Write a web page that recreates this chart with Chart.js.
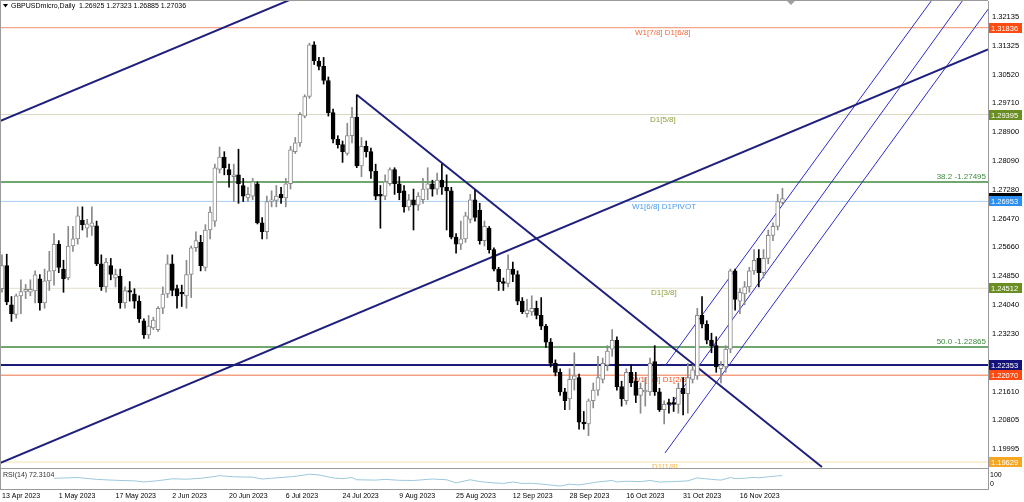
<!DOCTYPE html>
<html>
<head>
<meta charset="utf-8">
<script src="https://cdn.jsdelivr.net/npm/chart.js@4.4.1/dist/chart.umd.min.js"></script>
<style>
  html, body { margin: 0; padding: 0; background: #fff; overflow: hidden; }
  #c { display: block; }
</style>
</head>
<body>
<canvas id="c" width="1024" height="502"></canvas>
<script>
// daily GBPUSDmicro, 13 Apr 2023 .. 29 Nov 2023 (bar index 0..165)
const dateTickBars = [0, 12, 24, 36, 48, 60, 72, 84, 96, 108, 120, 132, 144, 156];
const dateLabels = ['13 Apr 2023', '1 May 2023', '17 May 2023', '2 Jun 2023', '20 Jun 2023', '6 Jul 2023',
  '24 Jul 2023', '9 Aug 2023', '25 Aug 2023', '12 Sep 2023', '28 Sep 2023', '16 Oct 2023', '31 Oct 2023', '16 Nov 2023'];

const open = [1.2450,1.2515,1.2405,1.2378,1.2430,1.2442,1.2440,1.2444,1.2478,1.2410,
  1.2472,1.2500,1.2575,1.2505,1.2480,1.2570,1.2590,1.2642,1.2620,1.2625,
  1.2627,1.2520,1.2455,1.2515,1.2480,1.2485,1.2410,1.2445,1.2435,1.2415,
  1.2360,1.2320,1.2340,1.2335,1.2395,1.2435,1.2520,1.2450,1.2440,1.2430,
  1.2490,1.2565,1.2580,1.2510,1.2615,1.2640,1.2785,1.2820,1.2785,1.2765,
  1.2770,1.2740,1.2705,1.2710,1.2745,1.2635,1.2610,1.2695,1.2698,1.2715,
  1.2705,1.2745,1.2835,1.2860,1.2935,1.2990,1.3135,1.3090,1.3075,1.3035,
  1.2945,1.2870,1.2855,1.2830,1.2880,1.2932,1.2795,1.2850,1.2835,1.2780,
  1.2715,1.2710,1.2745,1.2785,1.2745,1.2725,1.2680,1.2700,1.2685,1.2700,
  1.2730,1.2745,1.2730,1.2755,1.2735,1.2725,1.2595,1.2575,1.2590,1.2645,
  1.2700,1.2670,1.2585,1.2620,1.2560,1.2505,1.2470,1.2465,1.2505,1.2490,
  1.2415,1.2380,1.2385,1.2395,1.2375,1.2345,1.2300,1.2240,1.2215,1.2160,
  1.2140,1.2195,1.2200,1.2075,1.2070,1.2135,1.2165,1.2195,1.2235,1.2280,
  1.2305,1.2175,1.2135,1.2215,1.2190,1.2150,1.2160,1.2160,1.2245,1.2160,
  1.2110,1.2130,1.2130,1.2125,1.2170,1.2155,1.2195,1.2205,1.2375,1.2350,
  1.2305,1.2290,1.2225,1.2230,1.2280,1.2500,1.2415,1.2435,1.2455,1.2500,
  1.2535,1.2495,1.2535,1.2600,1.2625,1.26925];
const high = [1.2545,1.2547,1.2428,1.2435,1.2475,1.2462,1.2475,1.2500,1.2490,1.2505,
  1.2555,1.2605,1.2585,1.2530,1.2625,1.2625,1.2680,1.2680,1.2645,1.2680,
  1.2640,1.2545,1.2535,1.2535,1.2505,1.2505,1.2455,1.2470,1.2450,1.2430,
  1.2365,1.2375,1.2370,1.2400,1.2455,1.2545,1.2545,1.2460,1.2460,1.2530,
  1.2570,1.2610,1.2600,1.2630,1.2680,1.2800,1.2848,1.2835,1.2800,1.2800,
  1.2842,1.2760,1.2735,1.2760,1.2750,1.2650,1.2710,1.2725,1.2740,1.2735,
  1.2760,1.2850,1.2875,1.2945,1.2995,1.3140,1.3144,1.3100,1.3100,1.3045,
  1.2955,1.2880,1.2865,1.2915,1.2960,1.2995,1.2875,1.2865,1.2845,1.2800,
  1.2740,1.2770,1.2790,1.2790,1.2765,1.2740,1.2715,1.2730,1.2720,1.2760,
  1.2790,1.2755,1.2775,1.2800,1.2770,1.2735,1.2605,1.2640,1.2665,1.2715,
  1.2727,1.2690,1.2640,1.2625,1.2565,1.2510,1.2480,1.2545,1.2525,1.2500,
  1.2425,1.2420,1.2430,1.2415,1.2425,1.2350,1.2310,1.2250,1.2225,1.2170,
  1.2225,1.2270,1.2210,1.2105,1.2140,1.2185,1.2260,1.2255,1.2290,1.2335,
  1.2315,1.2190,1.2225,1.2235,1.2215,1.2185,1.2200,1.2255,1.2290,1.2170,
  1.2135,1.2140,1.2145,1.2185,1.2200,1.2240,1.2235,1.2395,1.2428,1.2360,
  1.2325,1.2315,1.2245,1.2290,1.2505,1.2505,1.2450,1.2470,1.2510,1.2560,
  1.2560,1.2560,1.2615,1.2635,1.2715,1.27323];
const low = [1.2440,1.2405,1.2358,1.2367,1.2380,1.2422,1.2430,1.2410,1.2390,1.2395,
  1.2445,1.2460,1.2495,1.2440,1.2475,1.2555,1.2575,1.2615,1.2595,1.2600,
  1.2515,1.2445,1.2440,1.2475,1.2455,1.2395,1.2395,1.2415,1.2395,1.2355,
  1.2310,1.2310,1.2335,1.2330,1.2380,1.2425,1.2430,1.2395,1.2400,1.2395,
  1.2425,1.2555,1.2500,1.2500,1.2590,1.2625,1.2775,1.2770,1.2735,1.2695,
  1.2690,1.2695,1.2695,1.2700,1.2632,1.2590,1.2590,1.2680,1.2680,1.2690,
  1.2680,1.2730,1.2830,1.2850,1.2930,1.2985,1.3080,1.3065,1.3025,1.2935,
  1.2860,1.2845,1.2805,1.2825,1.2860,1.2790,1.2765,1.2820,1.2760,1.2700,
  1.2620,1.2700,1.2740,1.2715,1.2700,1.2665,1.2670,1.2615,1.2670,1.2690,
  1.2700,1.2710,1.2715,1.2715,1.2615,1.2590,1.2550,1.2560,1.2580,1.2635,
  1.2640,1.2575,1.2570,1.2550,1.2500,1.2445,1.2445,1.2455,1.2470,1.2405,
  1.2380,1.2370,1.2375,1.2365,1.2335,1.2285,1.2230,1.2205,1.2150,1.2110,
  1.2110,1.2165,1.2055,1.2055,1.2037,1.2115,1.2150,1.2185,1.2220,1.2260,
  1.2165,1.2120,1.2125,1.2175,1.2130,1.2100,1.2120,1.2150,1.2150,1.2105,
  1.2070,1.2100,1.2105,1.2100,1.2095,1.2100,1.2185,1.2195,1.2340,1.2295,
  1.2270,1.2215,1.2185,1.2215,1.2270,1.2390,1.2380,1.2405,1.2440,1.2490,
  1.2455,1.2480,1.2520,1.2585,1.2615,1.26885];
const close = [1.2515,1.2413,1.2380,1.2430,1.2442,1.2448,1.2448,1.2489,1.2410,1.2472,
  1.2500,1.2575,1.2510,1.2478,1.2570,1.2590,1.2655,1.2630,1.2632,1.2635,
  1.2520,1.2455,1.2525,1.2490,1.2490,1.2410,1.2445,1.2440,1.2415,1.2365,
  1.2320,1.2345,1.2362,1.2395,1.2435,1.2520,1.2445,1.2430,1.2435,1.2490,
  1.2565,1.2585,1.2515,1.2615,1.2665,1.2790,1.2820,1.2790,1.2770,1.2770,
  1.2745,1.2710,1.2715,1.2750,1.2635,1.2610,1.2695,1.2700,1.2710,1.2705,
  1.2745,1.2840,1.2860,1.2940,1.2990,1.3135,1.3090,1.3075,1.3035,1.2945,
  1.2870,1.2855,1.2835,1.2880,1.2932,1.2795,1.2850,1.2835,1.2780,1.2710,
  1.2710,1.2750,1.2785,1.2745,1.2720,1.2680,1.2700,1.2685,1.2710,1.2730,
  1.2745,1.2730,1.2755,1.2735,1.2725,1.2595,1.2575,1.2590,1.2655,1.2700,
  1.2650,1.2585,1.2625,1.2560,1.2505,1.2470,1.2465,1.2505,1.2490,1.2415,
  1.2385,1.2390,1.2395,1.2375,1.2345,1.2300,1.2240,1.2215,1.2160,1.2135,
  1.2195,1.2205,1.2075,1.2070,1.2135,1.2165,1.2200,1.2240,1.2275,1.2305,
  1.2175,1.2140,1.2215,1.2185,1.2150,1.2170,1.2165,1.2240,1.2160,1.2110,
  1.2125,1.2125,1.2125,1.2170,1.2155,1.2200,1.2222,1.2375,1.2350,1.2305,
  1.2290,1.2230,1.2235,1.2280,1.2500,1.2420,1.2440,1.2455,1.2500,1.2530,
  1.2495,1.2535,1.2600,1.2625,1.2695,1.27036];

const priceTicks = [1.32135, 1.31325, 1.30520, 1.29710, 1.28900, 1.28090, 1.27280, 1.26470,
  1.25660, 1.24850, 1.24040, 1.23230, 1.22420, 1.21610, 1.20805, 1.19995];

// horizontal levels and their captions
const levelPrices = [1.31836, 1.29395, 1.27495, 1.26953, 1.24512, 1.22865, 1.22353, 1.22070, 1.19629];
const levelNames = ['W1[7/8] D1[6/8]', 'D1[5/8]', '38.2 -1.27495', 'W1[6/8] D1PIVOT', 'D1[3/8]',
  '50.0 -1.22865', '', 'W1[1/8] D1[2/8]', 'D1[1/8]'];
// price boxes on the right axis
const markerPrices = [1.31836, 1.29395, 1.27036, 1.26953, 1.24512, 1.22353, 1.22070, 1.19629];

// trend lines: [bar0, price0, bar1, price1]
const trendLines = [
  [-0.42, 1.29212, 63.0, 1.32736],
  [-0.42, 1.19602, 208.46, 1.31222],
  [75.05, 1.29943, 173.36, 1.19489]
];
const channelLines = [
  [140.17, 1.22328, 196.6, 1.32613],
  [141.23, 1.21204, 203.17, 1.32613],
  [140.17, 1.19883, 209.9, 1.32613]
];

// RSI(14), read at a handful of bars
const rsiBar = [11,16,20,24,28,30,33,36,39,42,44,46,49,53,55,57,61,63,65,67,70,72,74,75,79,81,84,87,89,91,
  94,96,99,101,104,106,108,110,112,115,118,120,122,124,126,129,130,132,135,137,139,142,145,147,150,152,154,155,
  157,159,160,162,164,165];
const rsiVal = [58,62,52,47,44,38,45,55,53,58,64,72,66,64,54,58,66,72,80,76,60,56,62,50,48,52,47,46,50,54,
  50,33,50,40,33,30,38,30,31,24,16,26,22,30,38,46,38,42,40,46,38,40,44,60,52,48,62,56,
  58,63,60,66,71,72.31];

const FONT = "'Liberation Sans', Arial, sans-serif";
const up = i => close[i] >= open[i];
const bars = open.map((_, i) => i);

const levelStyle = [
  { line: '#f4a58a', w: 1.2, text: '#f0683a', x: 635, pos: 'below' },
  { line: '#d9d8c2', w: 1, text: '#8fa040', x: 650, pos: 'below' },
  { line: '#3f8a3f', w: 1.5, text: '#3f8a3f', x: 986, pos: 'above' },
  { line: '#a9cdf2', w: 1, text: '#4a9df2', x: 632, pos: 'below' },
  { line: '#e3dfc8', w: 1, text: '#8fa040', x: 651, pos: 'below' },
  { line: '#3f8a3f', w: 1.5, text: '#3f8a3f', x: 986, pos: 'above' },
  { line: '#1b1b7a', w: 2, text: '#1b1b7a', x: 0, pos: 'below' },
  { line: '#f4a080', w: 1.5, text: '#f05424', x: 633, pos: 'below' },
  { line: '#f7e2ae', w: 1, text: '#f2b64c', x: 652, pos: 'below' }
];
const markerColors = ['#ff4b12', '#6b8e23', '#000000', '#2b8ef2', '#6b8e23', '#12127a', '#ff4b12', '#f7a622'];

const datasets = [];
levelPrices.forEach((p, k) => datasets.push({
  type: 'line', data: [{ x: -1, y: p }, { x: 215, y: p }],
  borderColor: levelStyle[k].line, borderWidth: levelStyle[k].w, pointRadius: 0, order: 6
}));
trendLines.forEach(t => datasets.push({
  type: 'line', data: [{ x: t[0], y: t[1] }, { x: t[2], y: t[3] }],
  borderColor: '#1f1f7e', borderWidth: 2, pointRadius: 0, order: 5
}));
channelLines.forEach(t => datasets.push({
  type: 'line', data: [{ x: t[0], y: t[1] }, { x: t[2], y: t[3] }],
  borderColor: '#2c2ccc', borderWidth: 1, pointRadius: 0, order: 5
}));
datasets.push({
  type: 'bar', grouped: false, barThickness: 1, order: 3,
  data: bars.map(i => ({ x: i, y: [low[i], high[i]] })),
  backgroundColor: c => up(c.dataIndex) ? '#8a8a8a' : '#000'
});
datasets.push({
  type: 'bar', grouped: false, barThickness: 4, order: 2, minBarLength: 1,
  data: bars.map(i => ({ x: i, y: [Math.min(open[i], close[i]), Math.max(open[i], close[i])] })),
  backgroundColor: c => up(c.dataIndex) ? '#fff' : '#000',
  borderColor: c => up(c.dataIndex) ? '#8a8a8a' : '#000',
  borderWidth: 1, borderSkipped: false
});
datasets.push({
  type: 'line', yAxisID: 'yRsi', order: 1,
  data: rsiBar.map((b, k) => ({ x: b, y: rsiVal[k] })),
  borderColor: '#9cc8dc', borderWidth: 1, pointRadius: 0, tension: 0
});

const decor = {
  id: 'decor',
  beforeDatasetsDraw(chart) {
    const { ctx, scales: { y } } = chart;
    ctx.save();
    ctx.beginPath(); ctx.rect(0, 0, 988, 468); ctx.clip();
    ctx.font = '8px ' + FONT;
    levelPrices.forEach((p, k) => {
      if (!levelNames[k]) return;
      const s = levelStyle[k], py = y.getPixelForValue(p);
      ctx.fillStyle = s.text;
      if (s.pos === 'above') {
        ctx.textAlign = 'right'; ctx.textBaseline = 'bottom';
        ctx.fillText(levelNames[k], s.x, py - 1);
      } else {
        ctx.textAlign = 'left'; ctx.textBaseline = 'top';
        ctx.fillText(levelNames[k], s.x, py + 1);
      }
    });
    ctx.restore();
  },
  afterDraw(chart) {
    const { ctx, scales: { y } } = chart;
    ctx.save();
    // frame
    ctx.strokeStyle = '#9a9a9a'; ctx.lineWidth = 1;
    ctx.beginPath();
    ctx.moveTo(0.5, 0); ctx.lineTo(0.5, 489);
    ctx.moveTo(0, 0.5); ctx.lineTo(988, 0.5);
    ctx.moveTo(0, 468.5); ctx.lineTo(988, 468.5);
    ctx.stroke();
    // shift marker
    ctx.fillStyle = '#a0a0a0';
    ctx.beginPath(); ctx.moveTo(787, 1); ctx.lineTo(795, 1); ctx.lineTo(791, 5); ctx.fill();
    // price boxes
    ctx.font = '7.5px ' + FONT; ctx.textAlign = 'left'; ctx.textBaseline = 'middle';
    markerPrices.forEach((p, k) => {
      const py = Math.round(y.getPixelForValue(p));
      ctx.fillStyle = markerColors[k];
      ctx.fillRect(989, py - 5, 33, 10);
      ctx.fillStyle = '#fff';
      ctx.fillText(p.toFixed(5), 991, py + 0.5);
    });
    // header and sub-window texts
    ctx.fillStyle = '#000';
    ctx.beginPath(); ctx.moveTo(3, 4); ctx.lineTo(8, 4); ctx.lineTo(5.5, 7.5); ctx.fill();
    ctx.font = '7px ' + FONT;
    ctx.fillText('GBPUSDmicro,Daily  1.26925 1.27323 1.26885 1.27036', 11, 6);
    ctx.fillStyle = '#333';
    ctx.fillText('RSI(14) 72.3104', 3, 475);
    ctx.fillStyle = '#000';
    ctx.fillText('100', 990, 475);
    ctx.fillText('0', 990, 484);
    ctx.restore();
  }
};

const noPad = a => { a.paddingTop = 0; a.paddingBottom = 0; a.paddingLeft = 0; a.paddingRight = 0; };

new Chart(document.getElementById('c').getContext('2d'), {
  type: 'bar',
  data: { datasets },
  options: {
    responsive: false, animation: false, devicePixelRatio: 1,
    layout: { padding: { top: 1, left: 0, right: 0, bottom: 0 } },
    plugins: { legend: { display: false }, tooltip: { enabled: false } },
    scales: {
      x: {
        type: 'linear', min: -0.423, max: 208.46, offset: false,
        grid: { display: false, drawTicks: false },
        border: { display: true, color: '#9a9a9a' },
        afterBuildTicks: a => { a.ticks = dateTickBars.map(v => ({ value: v })); },
        afterFit: a => { a.height = 13; noPad(a); },
        ticks: { autoSkip: false, maxRotation: 0, align: 'start', padding: 3, color: '#000',
          font: { family: FONT, size: 7 },
          callback: v => dateLabels[dateTickBars.indexOf(v)] }
      },
      y: {
        type: 'linear', position: 'right', min: 1.18871, max: 1.32585,
        grid: { display: false, drawTicks: false },
        border: { display: true, color: '#9a9a9a' },
        afterBuildTicks: a => { a.ticks = priceTicks.map(v => ({ value: v })); },
        afterFit: a => { a.width = 36; noPad(a); },
        ticks: { autoSkip: false, padding: 4, color: '#000', font: { family: FONT, size: 7.5 },
          callback: v => v.toFixed(5) }
      },
      yRsi: { type: 'linear', display: false, min: 0, max: 2638 }
    }
  },
  plugins: [decor]
});
</script>
</body>
</html>
